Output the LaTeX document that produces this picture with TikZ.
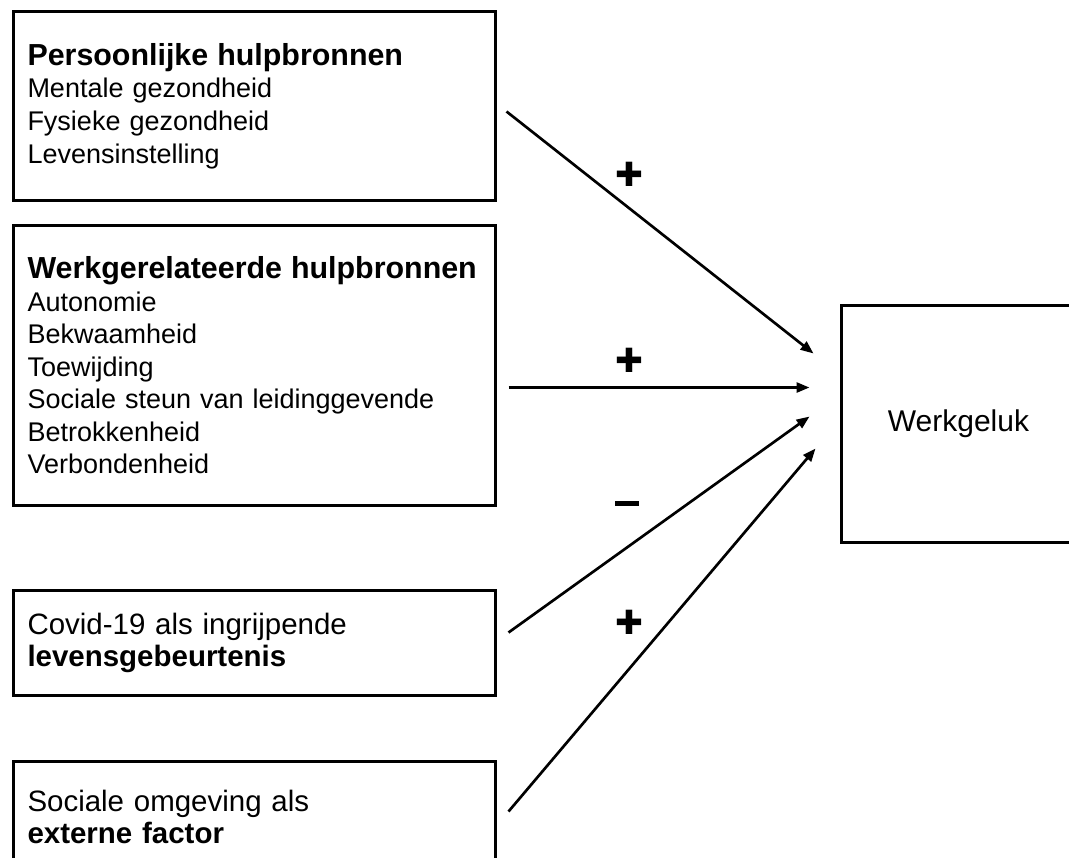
\documentclass[tikz,border=0pt]{standalone}
\usepackage{fontspec}
\setmainfont{Liberation Sans}
\newfontfamily\symfont{DejaVu Sans}
\usetikzlibrary{arrows.meta,calc}
\newcommand{\kopfont}{\bfseries\fontsize{22.8}{24.4}\selectfont}
\tikzset{
  srcbox/.style  = {draw, line width=2.25pt, anchor=north west, align=left,
                    inner xsep=10.5pt, text width=340.5pt,
                    font=\fontsize{20.25}{24.4}\selectfont},
  ctxbox/.style  = {srcbox, font=\fontsize{22.1}{24}\selectfont},
  linkarr/.style = {-{Triangle[length=9.75pt,width=7.5pt]}, line width=2pt},
  signlbl/.style = {inner sep=0pt, font=\symfont\fontsize{25}{25}\selectfont}
}

\begin{document}
\begin{tikzpicture}[x=0.75pt,y=-0.75pt]
  \path[use as bounding box] (0,0) rectangle (1069,857);
  \clip (0,0) rectangle (1069,857);
  \node[srcbox,minimum height=141.75pt] (pers) at (12,10)
    {{\kopfont Persoonlijke hulpbronnen}\\Mentale gezondheid\\Fysieke gezondheid\\Levensinstelling};
  \node[srcbox,minimum height=210pt] (werk) at (12,224)
    {{\kopfont Werkgerelateerde hulpbronnen}\\Autonomie\\Bekwaamheid\\Toewijding\\
     Sociale steun van leidinggevende\\Betrokkenheid\\Verbondenheid};
  \node[ctxbox,minimum height=78.75pt] (covid) at (12,589)
    {Covid-19 als ingrijpende\\\textbf{levensgebeurtenis}};
  \node[ctxbox,minimum height=82.5pt] (omg) at (12,760)
    {Sociale omgeving als\\\textbf{externe factor}};
  \node[draw,line width=2.25pt,anchor=north west,minimum width=175.5pt,minimum height=177.75pt,
        font=\fontsize{22.5}{24}\selectfont] (geluk) at (840,304) {Werkgeluk};
  % effecten op werkgeluk
  \draw[linkarr] ($(pers.east)+(9.5,5.5)$) -- ($(geluk.west)+(-26.5,-70.5)$);
  \draw[linkarr] ($(werk.east)+(11.5,22)$) -- ($(geluk.west)+(-30.5,-36.5)$);
  \draw[linkarr] ($(covid.east)+(11.5,-10.5)$) -- ($(geluk.west)+(-30.5,-7.5)$);
  \draw[linkarr] ($(omg.east)+(11.5,-5)$) -- ($(geluk.west)+(-24.5,24.5)$);
  \node[signlbl] (pluspers) at (629,174) {✚};
  \node[signlbl] (pluswerk) at (629,360) {✚};
  \node[inner sep=0pt] (mincovid) at (627,503) {\rule{18pt}{3.75pt}};
  \node[signlbl] (plusomg) at (629,622) {✚};
\end{tikzpicture}
\end{document}
